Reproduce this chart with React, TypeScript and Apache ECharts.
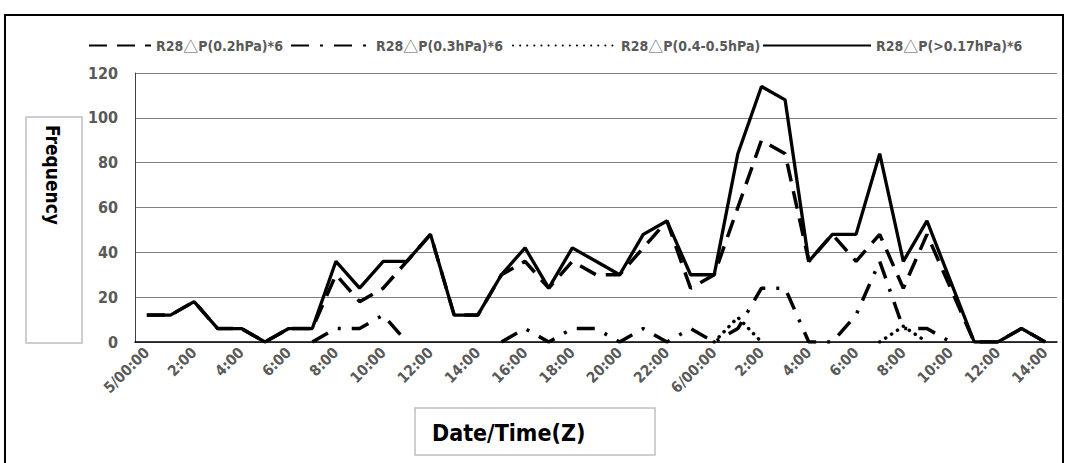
import React, { useEffect, useRef } from "react";
import * as echarts from "echarts";

const categories: string[] = [
  "5/00:00", "1:00", "2:00", "3:00", "4:00", "5:00", "6:00", "7:00", "8:00", "9:00",
  "10:00", "11:00", "12:00", "13:00", "14:00", "15:00", "16:00", "17:00", "18:00", "19:00",
  "20:00", "21:00", "22:00", "23:00", "6/00:00", "1:00", "2:00", "3:00", "4:00", "5:00",
  "6:00", "7:00", "8:00", "9:00", "10:00", "11:00", "12:00", "13:00", "14:00",
];

const seriesNames: string[] = [
  "R28△P(0.2hPa)*6",
  "R28△P(0.3hPa)*6",
  "R28△P(0.4-0.5hPa)",
  "R28△P(>0.17hPa)*6",
];

const p02: number[] = [
  12, 12, 18, 6, 6, 0, 6, 6, 30, 18,
  24, 36, 48, 12, 12, 30, 36, 24, 36, 30,
  30, 42, 54, 24, 30, 60, 90, 84, 36, 48,
  36, 48, 24, 48, 24, 0, 0, 6, 0,
];

const p03: number[] = [
  0, 0, 0, 0, 0, 0, 0, 0, 6, 6,
  12, 0, 0, 0, 0, 0, 6, 0, 6, 6,
  0, 6, 0, 6, 0, 6, 24, 24, 0, 0,
  12, 36, 6, 6, 0, 0, 0, 0, 0,
];

const p0405: number[] = [
  0, 0, 0, 0, 0, 0, 0, 0, 0, 0,
  0, 0, 0, 0, 0, 0, 0, 0, 0, 0,
  0, 0, 0, 0, 0, 11, 0, 0, 0, 0,
  0, 0, 7, 0, 0, 0, 0, 0, 0,
];

const p017: number[] = [
  12, 12, 18, 6, 6, 0, 6, 6, 36, 24,
  36, 36, 48, 12, 12, 30, 42, 24, 42, 36,
  30, 48, 54, 30, 30, 84, 114, 108, 36, 48,
  48, 84, 36, 54, 27, 0, 0, 6, 0,
];

const yTicks = { min: 0, max: 120, interval: 20 };
const yTitle = "Frequency";
const xTitle = "Date/Time(Z)";

const FONT = "'DejaVu Sans Condensed', 'Noto Sans', 'DejaVu Sans', sans-serif";
const CJK = "'Noto Sans CJK KR', 'Noto Sans CJK SC', sans-serif";

// legend entry placement (left edge, symbol width)
const legendLefts: number[] = [88, 290, 512, 762];
const legendWidths: number[] = [62, 80, 103, 108];

// zero runs that lie on the axis are not visible in the original: keep a zero
// only when a neighbour is non-zero so the rising/falling segments are drawn
function hideFlatZeros(arr: number[]): (number | null)[] {
  return arr.map((v, i) => {
    if (v !== 0) return v;
    const prev = i > 0 ? arr[i - 1] : 0;
    const next = i < arr.length - 1 ? arr[i + 1] : 0;
    return prev !== 0 || next !== 0 ? v : null;
  });
}

export default function App() {
  const ref = useRef<HTMLDivElement>(null);

  useEffect(() => {
    if (!ref.current) return;
    const chart = echarts.init(ref.current, undefined, { renderer: "svg" });

    const dashStyles: any[] = [
      { type: [18, 10], width: 3.5, cap: "butt" },
      { type: [18, 11, 3, 11], width: 3.5, cap: "butt" },
      { type: [0.1, 7], width: 3.5, cap: "round" },
      { type: "solid", width: 3.3, cap: "butt" },
    ];
    const datas: (number | null)[][] = [p02, hideFlatZeros(p03), hideFlatZeros(p0405), p017];

    const legends = seriesNames.map((name, i) => ({
      top: 38,
      left: legendLefts[i],
      padding: 0,
      itemWidth: legendWidths[i],
      itemHeight: 14,
      itemGap: 0,
      itemStyle: { opacity: 0 },
      formatter: (n: string) => n.replace("△", "{t|△}"),
      textStyle: {
        color: "#595959",
        fontSize: 14,
        fontWeight: "bold",
        fontFamily: FONT,
        rich: {
          t: { fontFamily: CJK, fontSize: 15, color: "#595959", fontWeight: "normal" },
        },
      },
      data: [name],
    }));

    chart.setOption({
      animation: false,
      backgroundColor: "#ffffff",
      textStyle: { fontFamily: FONT },
      legend: legends,
      grid: { left: 135, right: 11, top: 73, bottom: 121, containLabel: false },
      xAxis: {
        type: "category",
        data: categories,
        boundaryGap: true,
        axisLine: { show: true, lineStyle: { color: "#000000", width: 1.5 } },
        axisTick: { show: false },
        axisLabel: {
          interval: 1,
          rotate: 45,
          color: "#595959",
          fontSize: 15,
          fontWeight: "bold",
          fontFamily: FONT,
          margin: 8,
        },
        splitLine: { show: false },
      },
      yAxis: {
        type: "value",
        min: yTicks.min,
        max: yTicks.max,
        interval: yTicks.interval,
        axisLine: { show: true, lineStyle: { color: "#404040", width: 1 } },
        axisTick: { show: false },
        axisLabel: { color: "#595959", fontSize: 16, fontWeight: "bold", fontFamily: FONT, margin: 17 },
        splitLine: { show: true, lineStyle: { color: "#808080", width: 1 } },
      },
      series: seriesNames.map((name, i) => ({
        name,
        type: "line",
        data: datas[i],
        symbol: "none",
        showSymbol: false,
        connectNulls: false,
        color: "#000000",
        lineStyle: { color: "#000000", ...dashStyles[i] },
        z: 2 + i,
      })),
      graphic: [
        {
          type: "rect",
          shape: { x: 5, y: 15, width: 1058, height: 470 },
          style: { fill: "none", stroke: "#000000", lineWidth: 2 },
          silent: true,
        },
        {
          type: "rect",
          shape: { x: 26, y: 117, width: 56, height: 226 },
          style: { fill: "#ffffff", stroke: "#BFBFBF", lineWidth: 1.5 },
          silent: true,
        },
        {
          type: "text",
          x: 53,
          y: 125,
          rotation: -Math.PI / 2,
          style: {
            text: yTitle,
            fill: "#000000",
            font: `bold 19px ${FONT}`,
            align: "left",
            verticalAlign: "middle",
          },
          silent: true,
        },
        {
          type: "rect",
          shape: { x: 415, y: 408, width: 240, height: 47 },
          style: { fill: "#ffffff", stroke: "#BFBFBF", lineWidth: 1.5 },
          silent: true,
        },
        {
          type: "text",
          x: 432,
          y: 433,
          style: {
            text: xTitle,
            fill: "#000000",
            font: `bold 23px ${FONT}`,
            align: "left",
            verticalAlign: "middle",
          },
          silent: true,
        },
      ],
    });

    return () => chart.dispose();
  }, []);

  return (
    <div
      ref={ref}
      style={{ position: "absolute", left: 0, top: 0, width: 1068, height: 463 }}
    />
  );
}
